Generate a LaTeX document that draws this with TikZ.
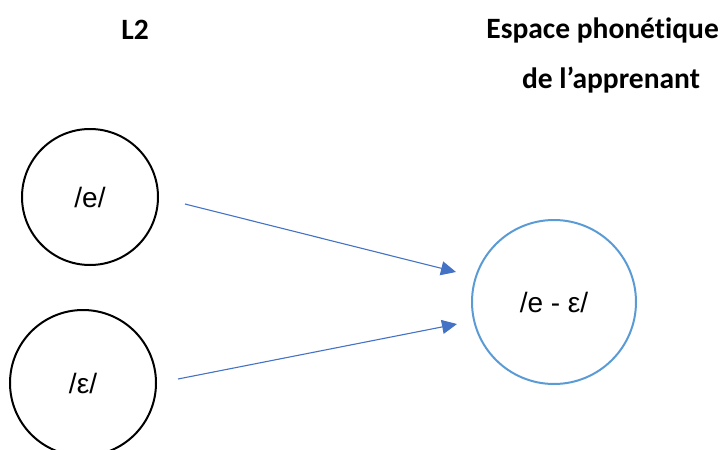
\documentclass[tikz,border=0pt]{standalone}
\usepackage{fontspec}
\setmainfont{Liberation Sans}
\newfontfamily\titlefont[Ligatures=NoCommon]{Carlito}
\usetikzlibrary{arrows.meta}
\definecolor{arrowblue}{HTML}{4472C4}
\definecolor{ringblue}{HTML}{5B9BD5}
\begin{document}
\begin{tikzpicture}[x=1pt,y=-1pt,
  ring/.style={circle,draw=black,line width=2pt,inner sep=0pt,font=\fontsize{28}{31}\selectfont},
  title/.style={font=\titlefont\bfseries\fontsize{29.5}{33}\selectfont,inner sep=0pt},
  link/.style={draw=arrowblue,line width=1.1pt,-{Triangle[length=15pt,width=14pt]}}]
\useasboundingbox (0,0) rectangle (724,450);
\node[title] (l2) at (135,30) {L2};
\node[title,anchor=east] (esp) at (719,30) {Espace phonétique};
\node[title] (app) at (611,80) {de l’apprenant};
\node[ring,minimum size=136pt] (e) at (90,197) {/e/};
\node[ring,minimum size=146pt] (eps) at (83,383) {/ε/};
\node[ring,draw=ringblue,minimum size=164pt] (m) at (554,302) {/e - ε/};
\coordinate (a1s) at (185,204);
\coordinate (a1e) at (456,272);
\coordinate (a2s) at (178,379);
\coordinate (a2e) at (457,324);
\draw[link] (a1s) -- (a1e);
\draw[link] (a2s) -- (a2e);
\end{tikzpicture}
\end{document}
